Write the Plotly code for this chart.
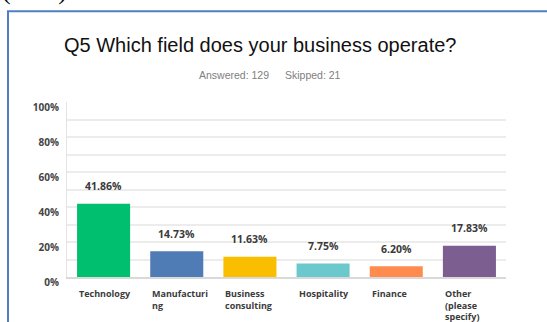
import plotly.graph_objects as go

# Survey answers for Q5
categories = ["Technology", "Manufacturing", "Business consulting",
              "Hospitality", "Finance", "Other (please specify)"]
category_labels = ["Technology", "Manufacturi<br>ng", "Business<br>consulting",
                   "Hospitality", "Finance", "Other<br>(please<br>specify)"]
percent_values = [41.86, 14.73, 11.63, 7.75, 6.20, 17.83]
bar_colors = ["#00BF6F", "#507CB6", "#F9BE00", "#6BC8CD", "#FF8B4F", "#7D5E90"]
y_tick_values = [0, 20, 40, 60, 80, 100]
y_tick_labels = ["0%", "20%", "40%", "60%", "80%", "100%"]

W, H = 547, 322
L, R, T, B = 67, 41, 102, 45
PW, PH = W - L - R, H - T - B


def px_x(x):
    return (x - L) / PW


def px_y(y):
    return (H - B - y) / PH


BAR_GAP = 0.275
half_bar = (1 - BAR_GAP) / 2

fig = go.Figure()
fig.add_trace(go.Bar(
    x=list(range(len(categories))),
    y=percent_values,
    marker=dict(color=bar_colors, line=dict(width=0)),
    hovertext=categories,
    showlegend=False,
))

annotations = []
# value labels above each bar
for i, v in enumerate(percent_values):
    annotations.append(dict(
        x=i, y=v, xref="x", yref="y", yshift=17.5,
        text=f"{v:.2f}%", showarrow=False, xanchor="center", yanchor="middle",
        font=dict(family="Open Sans", size=10.5, color="#3a3a3a", weight=700),
    ))
# category labels, left-aligned under each bar
for i, lab in enumerate(category_labels):
    annotations.append(dict(
        x=i - half_bar, y=px_y(285), xref="x", yref="paper",
        text=lab, showarrow=False, xanchor="left", yanchor="top", align="left",
        font=dict(family="Open Sans", size=9, color="#3b3b3b", weight=700),
    ))
# heading and response counts
annotations.append(dict(
    x=px_x(260), y=px_y(45), xref="paper", yref="paper",
    text="Q5 Which field does your business operate?", showarrow=False,
    xanchor="center", yanchor="middle",
    font=dict(family="Liberation Sans", size=20, color="#111111"),
))
annotations.append(dict(
    x=px_x(197), y=px_y(75), xref="paper", yref="paper",
    text="Answered: 129", showarrow=False, xanchor="left", yanchor="middle",
    font=dict(family="Liberation Sans", size=10.5, color="#808080"),
))
annotations.append(dict(
    x=px_x(283), y=px_y(75), xref="paper", yref="paper",
    text="Skipped: 21", showarrow=False, xanchor="left", yanchor="middle",
    font=dict(family="Liberation Sans", size=10.5, color="#808080"),
))
# end of the preceding sentence in the document
annotations.append(dict(
    x=px_x(0), y=px_y(-10), xref="paper", yref="paper",
    text="(41%).", showarrow=False, xanchor="left", yanchor="middle",
    font=dict(family="Liberation Serif", size=26, color="#000000"),
))

shapes = [
    # frame around the chart
    dict(type="line", xref="paper", yref="paper",
         x0=px_x(8), x1=px_x(8), y0=px_y(340), y1=px_y(11.3),
         line=dict(color="#4F7FC0", width=2)),
    dict(type="line", xref="paper", yref="paper",
         x0=px_x(7), x1=px_x(560), y0=px_y(11.3), y1=px_y(11.3),
         line=dict(color="#4F7FC0", width=2)),
]

fig.update_layout(
    width=W, height=H,
    margin=dict(l=L, r=R, t=T, b=B),
    paper_bgcolor="white", plot_bgcolor="white",
    bargap=BAR_GAP,
    annotations=annotations,
    shapes=shapes,
    xaxis=dict(
        range=[-0.5, len(categories) - 0.5],
        showticklabels=False, showgrid=False, zeroline=False,
        showline=True, linecolor="#d9d9d9", linewidth=2,
        fixedrange=True,
    ),
    yaxis=dict(
        range=[0, 100],
        tickvals=y_tick_values, ticktext=y_tick_labels,
        showgrid=True, gridcolor="#ececec", gridwidth=1.5,
        minor=dict(dtick=10, showgrid=True, gridcolor="#ececec", gridwidth=1.5),
        zeroline=False,
        showline=True, linecolor="#e3e3e3", linewidth=1,
        ticks="", ticklabelshift=5, ticklabelstandoff=5,
        tickfont=dict(family="Open Sans", size=10, color="#444444", weight=700),
        fixedrange=True,
    ),
)

fig.write_html("out.html")
